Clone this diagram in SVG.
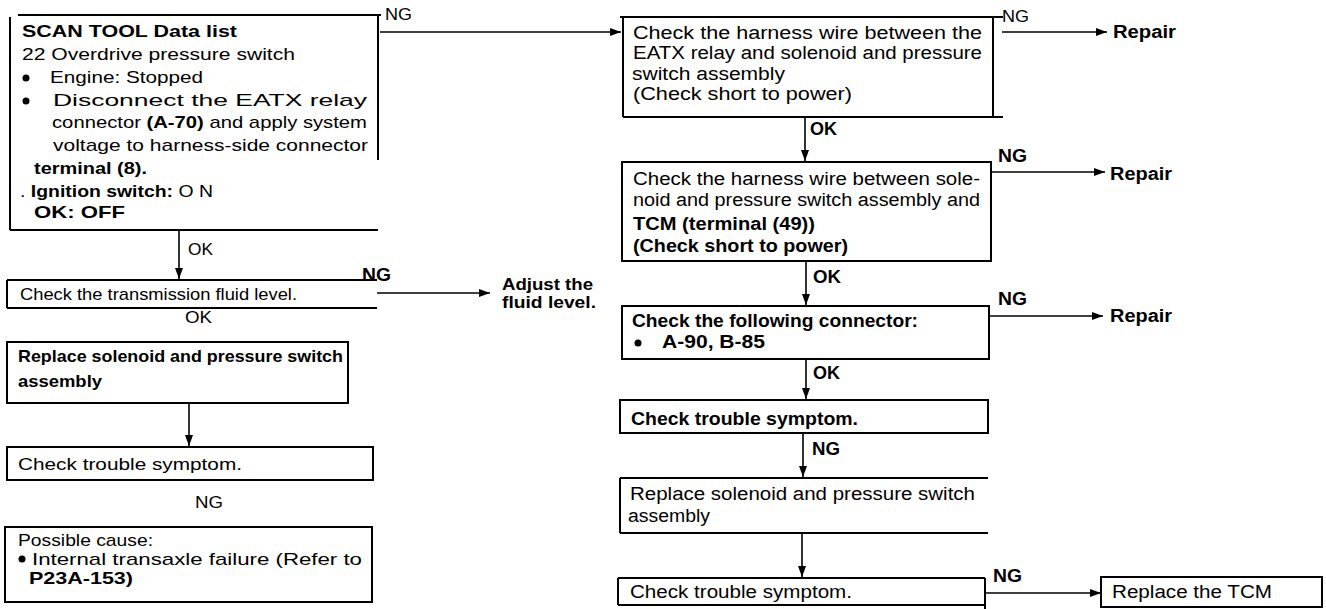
<svg xmlns="http://www.w3.org/2000/svg" width="1326" height="609" viewBox="0 0 1326 609">
<defs>
<style>
.t{font-family:"Liberation Sans",Arial,sans-serif;font-size:17px;fill:#000}
.r{font-size:18px}
.s{font-size:16px}
.b{font-weight:bold}
.box{fill:none;stroke:#000;stroke-width:2}
.c{fill:none;stroke:#000;stroke-width:1.6}
</style>
<marker id="ah" markerUnits="userSpaceOnUse" markerWidth="12" markerHeight="9" refX="11" refY="4.5" orient="auto">
<path d="M0,0.5 L11,4.5 L0,8.5 z" fill="#000"/>
</marker>
</defs>
<rect width="1326" height="609" fill="#fff"/>

<g id="scan-tool">
<path class="box" d="M18,15 H381 M378,15 V160 M10,17 V230 M10,230 H378"/>
<text class="t b" x="22" y="37" textLength="215" lengthAdjust="spacingAndGlyphs">SCAN TOOL Data list</text>
<text class="t" x="22" y="60" textLength="273" lengthAdjust="spacingAndGlyphs">22 Overdrive pressure switch</text>
<circle cx="26" cy="78" r="3.5"/>
<text class="t" x="50" y="83" textLength="153" lengthAdjust="spacingAndGlyphs">Engine: Stopped</text>
<circle cx="26" cy="101" r="3.5"/>
<text class="t" x="53" y="106" textLength="314" lengthAdjust="spacingAndGlyphs">Disconnect the EATX relay</text>
<text class="t" x="52" y="128" textLength="315" lengthAdjust="spacingAndGlyphs">connector <tspan class="b">(A-70)</tspan> and apply system</text>
<text class="t" x="53" y="151" textLength="315" lengthAdjust="spacingAndGlyphs">voltage to harness-side connector</text>
<text class="t b" x="34" y="174" textLength="113" lengthAdjust="spacingAndGlyphs">terminal (8).</text>
<text class="t" x="20" y="197" textLength="193" lengthAdjust="spacingAndGlyphs">. <tspan class="b">Ignition switch:</tspan> O N</text>
<text class="t b" x="34" y="218" textLength="91" lengthAdjust="spacingAndGlyphs">OK:  OFF</text>
</g>

<g id="fluid-check">
<path class="box" d="M7,280 V308 M7,280 H377 M7,308 H377"/>
<text class="t" x="20" y="300" textLength="277" lengthAdjust="spacingAndGlyphs">Check the transmission fluid level.</text>
</g>

<g id="adjust-fluid">
<text class="t s b" x="502" y="290" textLength="91" lengthAdjust="spacingAndGlyphs">Adjust the</text>
<text class="t s b" x="502" y="308" textLength="94" lengthAdjust="spacingAndGlyphs">fluid level.</text>
</g>

<g id="replace-left">
<rect class="box" x="7" y="342" width="341" height="61"/>
<text class="t b" x="18" y="362" textLength="325" lengthAdjust="spacingAndGlyphs">Replace solenoid and pressure switch</text>
<text class="t b" x="18" y="387" textLength="84" lengthAdjust="spacingAndGlyphs">assembly</text>
</g>

<g id="symptom-left">
<rect class="box" x="7" y="447" width="366" height="33"/>
<text class="t" x="18" y="470" textLength="224" lengthAdjust="spacingAndGlyphs">Check trouble symptom.</text>
</g>

<g id="possible-cause">
<rect class="box" x="5" y="527" width="367" height="75"/>
<text class="t" x="18" y="546" textLength="135" lengthAdjust="spacingAndGlyphs">Possible  cause:</text>
<circle cx="22" cy="559" r="3.5"/>
<text class="t" x="32" y="565" textLength="330" lengthAdjust="spacingAndGlyphs">Internal transaxle failure (Refer to</text>
<text class="t b" x="29" y="584" textLength="104" lengthAdjust="spacingAndGlyphs">P23A-153)</text>
</g>

<g id="harness-1">
<path class="box" d="M620,17 H1003 M623,17 V117 M993,17 V117 M623,117 H1003"/>
<text class="t r" x="633" y="39" textLength="349" lengthAdjust="spacingAndGlyphs">Check the harness wire between the</text>
<text class="t r" x="633" y="59" textLength="349" lengthAdjust="spacingAndGlyphs">EATX relay and solenoid and pressure</text>
<text class="t r" x="632" y="80" textLength="153" lengthAdjust="spacingAndGlyphs">switch assembly</text>
<text class="t r" x="633" y="100" textLength="219" lengthAdjust="spacingAndGlyphs">(Check short to power)</text>
</g>

<g id="harness-2">
<rect class="box" x="622" y="162" width="369" height="99"/>
<text class="t r" x="633" y="185" textLength="347" lengthAdjust="spacingAndGlyphs">Check the harness wire between sole-</text>
<text class="t r" x="633" y="206" textLength="347" lengthAdjust="spacingAndGlyphs">noid and pressure switch assembly and</text>
<text class="t r b" x="633" y="230" textLength="182" lengthAdjust="spacingAndGlyphs">TCM (terminal (49))</text>
<text class="t r b" x="633" y="252" textLength="215" lengthAdjust="spacingAndGlyphs">(Check short to power)</text>
</g>

<g id="connector-check">
<rect class="box" x="622" y="306" width="367" height="53"/>
<text class="t r b" x="632" y="327" textLength="286" lengthAdjust="spacingAndGlyphs">Check the following connector:</text>
<circle cx="638" cy="343" r="3.5"/>
<text class="t r b" x="662" y="348" textLength="103" lengthAdjust="spacingAndGlyphs">A-90, B-85</text>
</g>

<g id="symptom-right-1">
<rect class="box" x="620" y="400" width="368" height="33"/>
<text class="t r b" x="631" y="425" textLength="227" lengthAdjust="spacingAndGlyphs">Check trouble symptom.</text>
</g>

<g id="replace-right">
<path class="box" d="M620,478 H988 M620,478 V533 M620,533 H988"/>
<text class="t r" x="630" y="500" textLength="345" lengthAdjust="spacingAndGlyphs">Replace solenoid and pressure switch</text>
<text class="t r" x="628" y="522" textLength="82" lengthAdjust="spacingAndGlyphs">assembly</text>
</g>

<g id="symptom-right-2">
<path class="box" d="M618,578 H985 M618,578 V605 M985,578 V609 M618,605 H985"/>
<text class="t r" x="630" y="598" textLength="222" lengthAdjust="spacingAndGlyphs">Check trouble symptom.</text>
</g>

<g id="replace-tcm">
<rect class="box" x="1101" y="577" width="221" height="30"/>
<text class="t r" x="1112" y="598" textLength="160" lengthAdjust="spacingAndGlyphs">Replace the TCM</text>
</g>

<g id="repair-1"><text class="t r b" x="1113" y="38" textLength="63" lengthAdjust="spacingAndGlyphs">Repair</text></g>
<g id="repair-2"><text class="t r b" x="1110" y="180" textLength="62" lengthAdjust="spacingAndGlyphs">Repair</text></g>
<g id="repair-3"><text class="t r b" x="1110" y="322" textLength="62" lengthAdjust="spacingAndGlyphs">Repair</text></g>

<g id="connectors">
<path class="c" d="M380,32 H621" marker-end="url(#ah)"/>
<path class="c" d="M1002,32 H1107" marker-end="url(#ah)"/>
<path class="c" d="M805,117 V161" marker-end="url(#ah)"/>
<path class="c" d="M991,172 H1105" marker-end="url(#ah)"/>
<path class="c" d="M806,261 V305" marker-end="url(#ah)"/>
<path class="c" d="M989,316 H1103" marker-end="url(#ah)"/>
<path class="c" d="M806,359 V399" marker-end="url(#ah)"/>
<path class="c" d="M803,433 V477" marker-end="url(#ah)"/>
<path class="c" d="M802,533 V577" marker-end="url(#ah)"/>
<path class="c" d="M985,593 H1101" marker-end="url(#ah)"/>
<path class="c" d="M179,231 V279" marker-end="url(#ah)"/>
<path class="c" d="M377,293 H490" marker-end="url(#ah)"/>
<path class="c" d="M189,403 V446" marker-end="url(#ah)"/>
<text class="t" x="385" y="20" textLength="27" lengthAdjust="spacingAndGlyphs">NG</text>
<text class="t" x="1002" y="22" textLength="27" lengthAdjust="spacingAndGlyphs">NG</text>
<text class="t r b" x="810" y="135" textLength="27" lengthAdjust="spacingAndGlyphs">OK</text>
<text class="t r b" x="998" y="162" textLength="29" lengthAdjust="spacingAndGlyphs">NG</text>
<text class="t r b" x="813" y="283" textLength="28" lengthAdjust="spacingAndGlyphs">OK</text>
<text class="t r b" x="998" y="305" textLength="29" lengthAdjust="spacingAndGlyphs">NG</text>
<text class="t r b" x="813" y="379" textLength="27" lengthAdjust="spacingAndGlyphs">OK</text>
<text class="t r b" x="812" y="455" textLength="28" lengthAdjust="spacingAndGlyphs">NG</text>
<text class="t r b" x="993" y="582" textLength="29" lengthAdjust="spacingAndGlyphs">NG</text>
<text class="t" x="188" y="255" textLength="25" lengthAdjust="spacingAndGlyphs">OK</text>
<text class="t r b" x="362" y="281" textLength="29" lengthAdjust="spacingAndGlyphs">NG</text>
<text class="t" x="185" y="323" textLength="27" lengthAdjust="spacingAndGlyphs">OK</text>
<text class="t" x="195" y="508" textLength="28" lengthAdjust="spacingAndGlyphs">NG</text>
</g>
</svg>
